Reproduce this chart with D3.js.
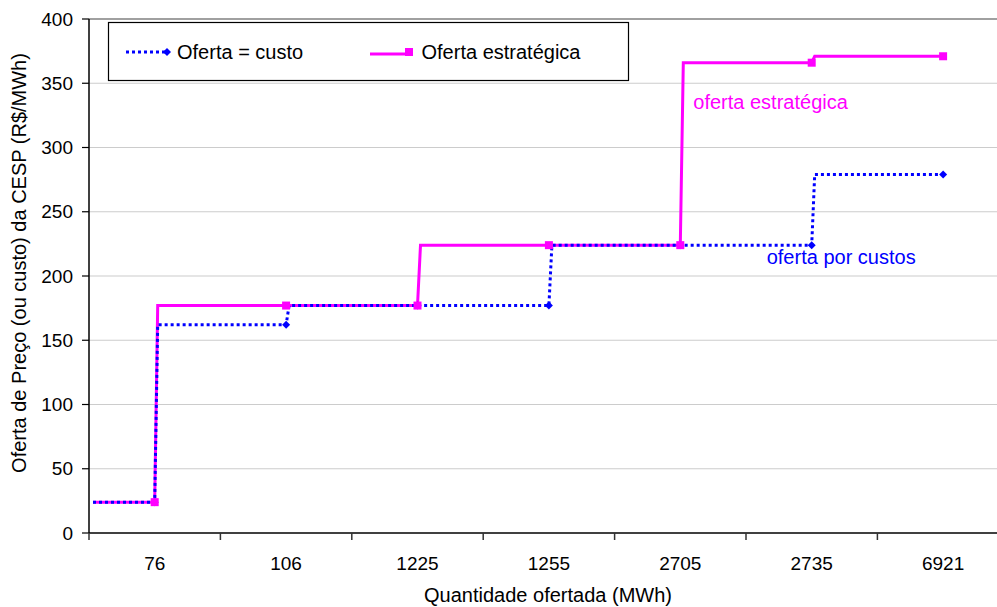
<!DOCTYPE html>
<html>
<head>
<meta charset="utf-8">
<script src="https://cdn.jsdelivr.net/npm/d3@7"></script>
<style>
  html, body { margin: 0; padding: 0; background: #fff; }
  svg { display: block; font-family: "Liberation Sans", Arial, sans-serif; }
</style>
</head>
<body>
<svg id="chart" width="997" height="607"></svg>
<script>
// Quantidades ofertadas (categorias do eixo X)
const categorias = ["76", "106", "1225", "1255", "2705", "2735", "6921"];
// Preço ofertado por custo (R$/MWh)
const ofertaCusto = [24, 162, 177, 177, 224, 224, 279];
// Preço da oferta estratégica (R$/MWh)
const ofertaEstrategica = [24, 177, 177, 224, 224, 366, 371];
// Marcas do eixo Y
const yTicks = [0, 50, 100, 150, 200, 250, 300, 350, 400];

const svg = d3.select("#chart");
const margin = { left: 89, top: 19, bottom: 533 };
const bandW = 131.4;

const x = d3.scaleBand()
  .domain(categorias)
  .range([margin.left, margin.left + bandW * categorias.length])
  .paddingInner(0).paddingOuter(0);
const y = d3.scaleLinear().domain([0, 400]).range([margin.bottom, margin.top]);
const cx = c => x(c) + x.bandwidth() / 2;
const xRight = x.range()[1];

// Linhas de grade
svg.append("g").selectAll("line")
  .data(yTicks.filter(t => t > 0))
  .join("line")
  .attr("x1", margin.left).attr("x2", xRight)
  .attr("y1", d => y(d)).attr("y2", d => y(d))
  .attr("stroke", d => d === 400 ? "#a0a0a0" : "#cccccc")
  .attr("stroke-width", d => d === 400 ? 2 : 1.2);

// Eixo Y
const yAxis = svg.append("g");
yAxis.append("line")
  .attr("x1", margin.left).attr("x2", margin.left)
  .attr("y1", margin.top).attr("y2", margin.bottom)
  .attr("stroke", "#000").attr("stroke-width", 1.5);
yAxis.selectAll(".tk").data(yTicks).join("line")
  .attr("x1", margin.left - 7).attr("x2", margin.left)
  .attr("y1", d => y(d)).attr("y2", d => y(d))
  .attr("stroke", "#000").attr("stroke-width", 1.2);
yAxis.selectAll("text").data(yTicks).join("text")
  .attr("x", 73).attr("y", d => y(d))
  .attr("dy", "0.35em")
  .attr("text-anchor", "end")
  .attr("font-size", 19)
  .attr("fill", "#000")
  .text(d => d);

// Eixo X
const xAxis = svg.append("g");
xAxis.append("line")
  .attr("x1", margin.left).attr("x2", xRight)
  .attr("y1", margin.bottom).attr("y2", margin.bottom)
  .attr("stroke", "#000").attr("stroke-width", 1.5);
const fronteiras = categorias.map(c => x(c)).concat([xRight]);
xAxis.selectAll(".tk").data(fronteiras).join("line")
  .attr("x1", d => d).attr("x2", d => d)
  .attr("y1", margin.bottom).attr("y2", margin.bottom + 7)
  .attr("stroke", "#333").attr("stroke-width", 1.5);
xAxis.selectAll("text").data(categorias).join("text")
  .attr("x", d => cx(d)).attr("y", 570)
  .attr("text-anchor", "middle")
  .attr("font-size", 19)
  .attr("fill", "#000")
  .text(d => d);

// Títulos dos eixos
svg.append("text")
  .attr("x", 548).attr("y", 602)
  .attr("text-anchor", "middle")
  .attr("font-size", 20)
  .text("Quantidade ofertada (MWh)");
svg.append("text")
  .attr("transform", `translate(26, ${(margin.top + margin.bottom) / 2 - 13}) rotate(-90)`)
  .attr("text-anchor", "middle")
  .attr("font-size", 20)
  .text("Oferta de Preço (ou custo) da CESP (R$/MWh)");

// Curva em degraus: horizontal até cada ponto, salto logo à direita dele
const saltoPx = 3, inicioPx = 4;
function degraus(vals) {
  const pts = [[margin.left + inicioPx, y(vals[0])]];
  vals.forEach((v, i) => {
    const px = cx(categorias[i]);
    pts.push([px, y(v)]);
    if (i < vals.length - 1) pts.push([px + saltoPx, y(vals[i + 1])]);
  });
  return pts;
}
const linha = d3.line();

svg.append("path")
  .attr("d", linha(degraus(ofertaEstrategica)))
  .attr("fill", "none")
  .attr("stroke", "#ff00ff")
  .attr("stroke-width", 3);
svg.append("path")
  .attr("d", linha(degraus(ofertaCusto)))
  .attr("fill", "none")
  .attr("stroke", "#0000ff")
  .attr("stroke-width", 3)
  .attr("stroke-dasharray", "3,3");

// Losango: quadrado girado 45°
const losango = d3.symbol().type(d3.symbolSquare).size(32);
svg.append("g").selectAll("path")
  .data(ofertaCusto)
  .join("path")
  .attr("transform", (d, i) => `translate(${cx(categorias[i])},${y(d)}) rotate(45)`)
  .attr("d", losango)
  .attr("fill", "#0000ff");

const lado = 8;
svg.append("g").selectAll("rect")
  .data(ofertaEstrategica)
  .join("rect")
  .attr("x", (d, i) => cx(categorias[i]) - lado / 2)
  .attr("y", d => y(d) - lado / 2)
  .attr("width", lado).attr("height", lado)
  .attr("fill", "#ff00ff");

// Rótulos das curvas
svg.append("text")
  .attr("x", cx("2705") + 13).attr("y", y(330))
  .attr("font-size", 20)
  .attr("fill", "#ff00ff")
  .text("oferta estratégica");
svg.append("text")
  .attr("x", cx("2735") - 45).attr("y", y(209))
  .attr("font-size", 20)
  .attr("fill", "#0000ff")
  .text("oferta por custos");

// Legenda
const leg = svg.append("g");
leg.append("rect")
  .attr("x", 108.5).attr("y", 22.5)
  .attr("width", 520).attr("height", 58)
  .attr("fill", "#fff").attr("stroke", "#000").attr("stroke-width", 1.2);
const ly = 52;
leg.append("line")
  .attr("x1", 126).attr("x2", 167).attr("y1", ly).attr("y2", ly)
  .attr("stroke", "#0000ff").attr("stroke-width", 3).attr("stroke-dasharray", "3,3");
leg.append("path")
  .attr("transform", `translate(167,${ly}) rotate(45)`)
  .attr("d", losango).attr("fill", "#0000ff");
leg.append("text")
  .attr("x", 177).attr("y", ly).attr("dy", "0.35em")
  .attr("font-size", 20).text("Oferta = custo");
leg.append("line")
  .attr("x1", 370).attr("x2", 409).attr("y1", ly + 2).attr("y2", ly + 2)
  .attr("stroke", "#ff00ff").attr("stroke-width", 3);
leg.append("rect")
  .attr("x", 409 - lado / 2).attr("y", ly - lado / 2)
  .attr("width", lado).attr("height", lado)
  .attr("fill", "#ff00ff");
leg.append("text")
  .attr("x", 421.5).attr("y", ly).attr("dy", "0.35em")
  .attr("font-size", 20).text("Oferta estratégica");
</script>
</body>
</html>
